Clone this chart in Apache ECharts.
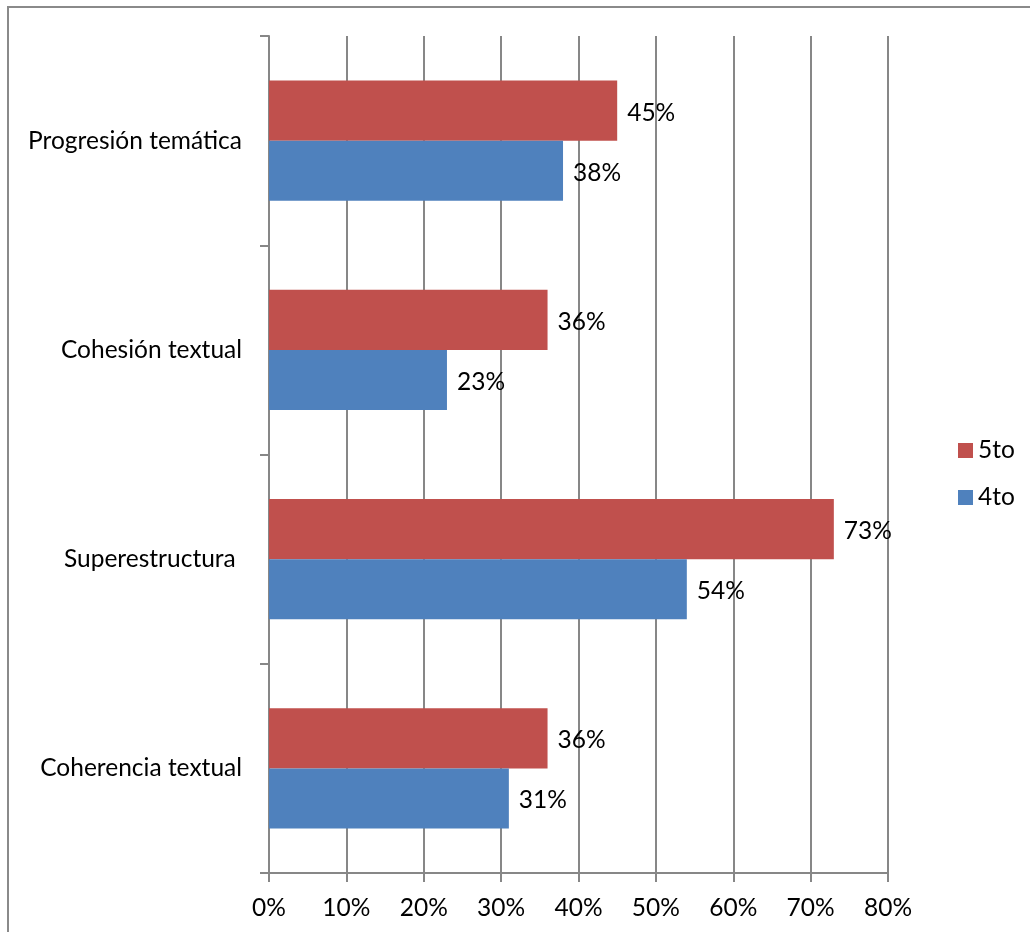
<!DOCTYPE html>
<html>
<head>
<meta charset="utf-8">
<script src="https://cdn.jsdelivr.net/npm/echarts@6/dist/echarts.min.js"></script>
<style>
  html, body { margin: 0; padding: 0; background: #fff; }
  #chart { width: 1030px; height: 932px; }
</style>
</head>
<body>
<div id="chart"></div>
<script>
// Categories listed bottom to top along the vertical axis
const categories = ['Coherencia textual', 'Superestructura ', 'Cohesión textual', 'Progresión temática'];
const values5to = [36, 73, 36, 45];
const values4to = [31, 54, 23, 38];
const xTicks = [0, 10, 20, 30, 40, 50, 60, 70, 80];

const FONT = 'Lato, "Open Sans", sans-serif';
const FS = 24.5;
const gridColor = '#878787';

const chart = echarts.init(document.getElementById('chart'), null, { renderer: 'canvas' });

const labelCfg = {
  show: true,
  position: 'right',
  distance: 10,
  offset: [0, 2],
  color: '#000',
  fontFamily: FONT,
  fontSize: FS,
  formatter: p => p.value + '%'
};

chart.setOption({
  animation: false,
  backgroundColor: '#fff',
  graphic: [{
    type: 'rect',
    shape: { x: 8, y: 7, width: 1100, height: 1000 },
    style: { fill: 'none', stroke: '#8a8a8a', lineWidth: 2 },
    silent: true
  }],
  grid: { left: 269, right: 142, top: 36, bottom: 59, containLabel: false },
  legend: {
    orient: 'vertical',
    left: 953,
    top: 433,
    itemWidth: 15,
    itemHeight: 15,
    itemGap: 22,
    icon: 'rect',
    data: ['5to', '4to'],
    textStyle: { fontFamily: FONT, fontSize: FS, color: '#000' }
  },
  xAxis: {
    type: 'value',
    min: xTicks[0],
    max: xTicks[xTicks.length - 1],
    interval: 10,
    axisLine: { show: true, lineStyle: { color: gridColor, width: 2 } },
    axisTick: { show: true, length: 9, lineStyle: { color: gridColor, width: 2 } },
    splitLine: { show: true, lineStyle: { color: gridColor, width: 2 } },
    axisLabel: {
      margin: 23,
      color: '#000',
      fontFamily: FONT,
      fontSize: FS,
      formatter: v => v + '%'
    }
  },
  yAxis: {
    type: 'category',
    data: categories,
    axisLine: { show: true, lineStyle: { color: gridColor, width: 2 } },
    axisTick: { show: true, length: 9, lineStyle: { color: gridColor, width: 2 } },
    axisLabel: {
      margin: 27,
      color: '#000',
      fontFamily: FONT,
      fontSize: FS
    }
  },
  series: [
    {
      name: '5to',
      type: 'bar',
      data: values5to,
      barGap: '0%',
      barCategoryGap: '42.6%',
      itemStyle: { color: '#C0504D' },
      label: labelCfg
    },
    {
      name: '4to',
      type: 'bar',
      data: values4to,
      barGap: '0%',
      barCategoryGap: '42.6%',
      itemStyle: { color: '#4F81BD' },
      label: labelCfg
    }
  ]
});
</script>
</body>
</html>
